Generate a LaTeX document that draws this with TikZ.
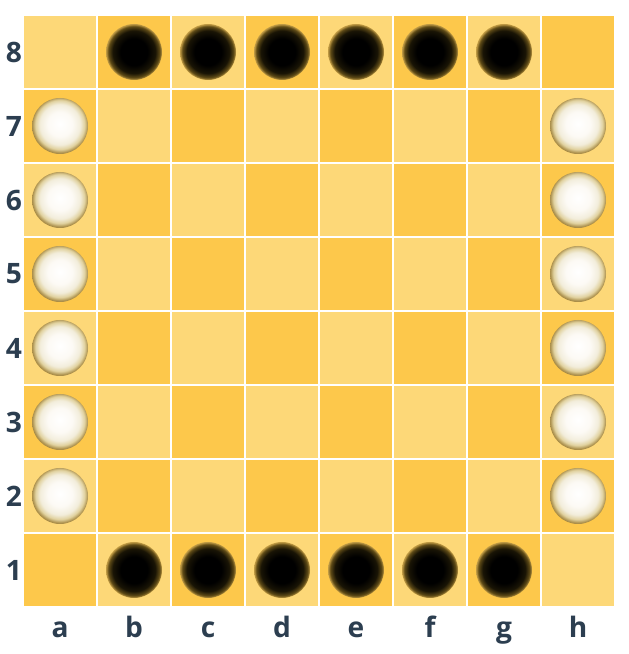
\documentclass[tikz,border=0pt]{standalone}
\usepackage{fontspec}
\setmainfont{Open Sans}
\definecolor{SquareLight}{RGB}{253,216,120}
\definecolor{SquareDark}{RGB}{253,200,75}
\definecolor{LabelSlate}{RGB}{44,62,80}
\pgfdeclareradialshading{blackstoneshade}{\pgfpoint{0bp}{0bp}}{%
  rgb(0bp)=(0,0,0); rgb(12bp)=(0,0,0); rgb(19bp)=(0.1,0.08,0.02);
  rgb(23bp)=(0.38,0.3,0.09); rgb(25bp)=(0.78,0.63,0.28); rgb(50bp)=(0.78,0.63,0.28)}
\pgfdeclareradialshading{whitestoneshade}{\pgfpoint{0bp}{2bp}}{%
  rgb(0bp)=(1,1,1); rgb(11bp)=(0.99,0.98,0.96); rgb(18bp)=(0.95,0.93,0.86);
  rgb(22bp)=(0.88,0.82,0.62); rgb(25bp)=(0.66,0.55,0.28); rgb(50bp)=(0.72,0.6,0.3)}
\tikzset{
  sqbox/.style={minimum size=1.44cm,inner sep=0pt,outer sep=0pt},
  lightsq/.style={sqbox,fill=SquareLight},
  darksq/.style={sqbox,fill=SquareDark},
  coordlabel/.style={font=\fontsize{16}{19}\selectfont\bfseries,text=LabelSlate,inner sep=0pt},
  bstone/.style={shading=blackstoneshade},
  wstone/.style={shading=whitestoneshade},
}
\begin{document}
\begin{tikzpicture}
  \fill[white] (0,0) rectangle (12.56,13.08);
  \useasboundingbox (0,0) rectangle (12.56,13.08);
  % board squares
  \foreach \f [count=\i from 0] in {a,b,c,d,e,f,g,h} {
    \foreach \r in {1,...,8} {
      \pgfmathtruncatemacro\sqpar{mod(\i+\r,2)}
      \ifnum\sqpar=0
        \node[lightsq] (\f\r) at ({1.2+1.48*\i},{1.68+1.48*(\r-1)}) {};
      \else
        \node[darksq] (\f\r) at ({1.2+1.48*\i},{1.68+1.48*(\r-1)}) {};
      \fi
    }
  }
  % coordinates
  \foreach \r in {1,...,8}
    \node[coordlabel] (rank\r) at ({0.28},{1.68+1.48*(\r-1)}) {\r};
  \foreach \f [count=\i from 0] in {a,b,c,d,e,f,g,h}
    \node[coordlabel,anchor=base] (file\f) at ({1.2+1.48*\i},0.32) {\f};
  % stones
  \foreach \f in {b,c,d,e,f,g} {
    \shade[bstone] (\f1) circle[radius=0.56cm];
    \shade[bstone] (\f8) circle[radius=0.56cm];
  }
  \foreach \r in {2,...,7} {
    \shade[wstone] (a\r) circle[radius=0.56cm];
    \shade[wstone] (h\r) circle[radius=0.56cm];
  }
\end{tikzpicture}
\end{document}
